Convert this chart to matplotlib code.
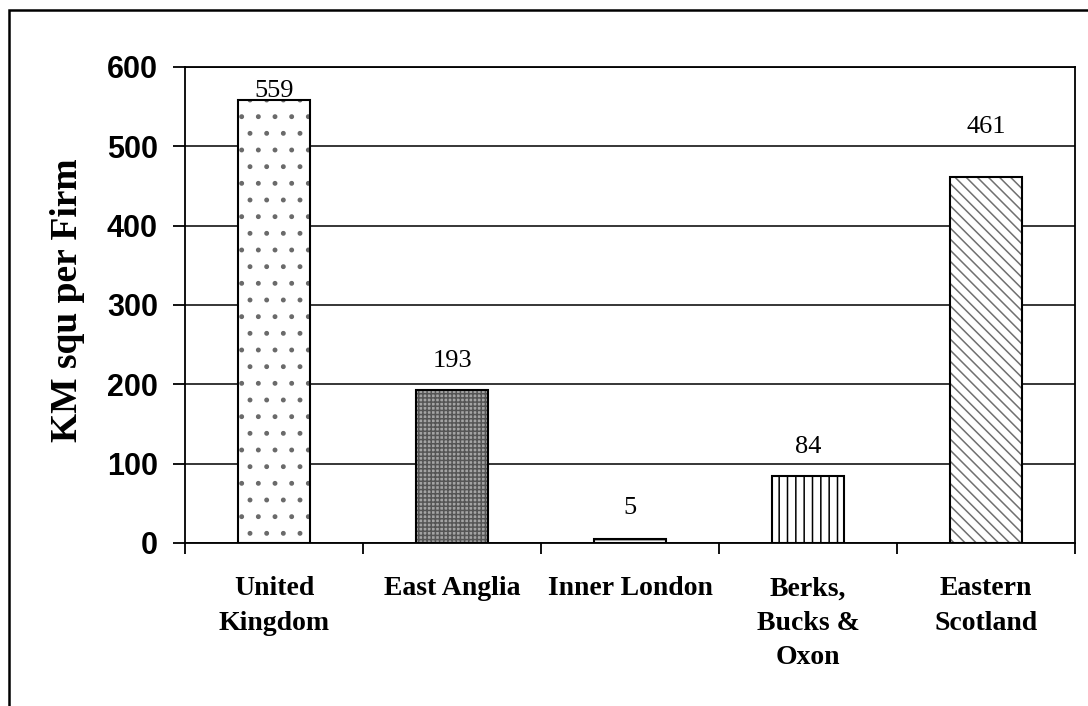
import matplotlib.pyplot as plt
from matplotlib.patches import Rectangle
from matplotlib.ticker import FixedLocator, NullFormatter

regions = ['United\nKingdom', 'East Anglia', 'Inner London', 'Berks,\nBucks &\nOxon', 'Eastern\nScotland']
km_per_firm = [559, 193, 5, 84, 461]
yticks = [0, 100, 200, 300, 400, 500, 600]

# fill, hatch colour and hatch for each bar
fills = ['white', '#a4a4a4', 'white', 'white', 'white']
hatch_cols = ['#6a6a6a', '#555555', 'black', 'black', '#707070']
hatches = ['.', '++++', '----', '||', '\\\\\\']
# label offsets above bar top (points)
lab_off = [6, 21, 22, 21, 36]

plt.rcParams['hatch.linewidth'] = 1.1
serif = 'Liberation Serif'
sans = 'Liberation Sans'

fig = plt.figure(figsize=(10.88, 7.06), dpi=100)
fig.patches.append(Rectangle((9/1088, -1), 2, 1 - 10/706 + 1, transform=fig.transFigure,
                             fill=False, edgecolor='black', linewidth=1.8, zorder=0))

ax = fig.add_axes([185/1088, 1 - 543/706, 890/1088, 476/706])
x = range(len(regions))
w = 0.405
for i, v in enumerate(km_per_firm):
    ax.bar(i, v, width=w, color=fills[i], edgecolor=hatch_cols[i], hatch=hatches[i],
           linewidth=0, zorder=3)
    ax.bar(i, v, width=w, fill=False, edgecolor='black', linewidth=1.5, zorder=4)
    ax.annotate(str(v), (i, v), xytext=(0, lab_off[i]), textcoords='offset points',
                ha='center', va='center', fontsize=19, family=serif, zorder=5)

ax.set_xlim(-0.5, len(regions) - 0.5)
ax.set_ylim(0, 600)
ax.set_yticks(yticks)
ax.set_yticklabels([str(t) for t in yticks], fontsize=22, fontweight='bold', family=sans)
ax.grid(axis='y', color='black', linewidth=1.1, zorder=1)

ax.set_xticks(list(x))
ax.set_xticklabels(regions, fontsize=20, fontweight='bold', family=serif, linespacing=1.5)
ax.xaxis.set_minor_locator(FixedLocator([i - 0.5 for i in range(len(regions) + 1)]))
ax.xaxis.set_minor_formatter(NullFormatter())
ax.tick_params(axis='x', which='major', length=0, pad=24)
ax.tick_params(axis='x', which='minor', length=8, width=1.3, direction='out')
ax.tick_params(axis='y', length=8.5, width=1.3, direction='out', pad=11)

for s in ax.spines.values():
    s.set_linewidth(1.3)
    s.set_color('black')
ax.set_axisbelow(True)

ax.set_ylabel('KM squ per Firm', fontsize=27, fontweight='bold', family=serif)
ax.yaxis.set_label_coords(-0.112, 0.51)

fig.savefig('out.png', dpi=100)
